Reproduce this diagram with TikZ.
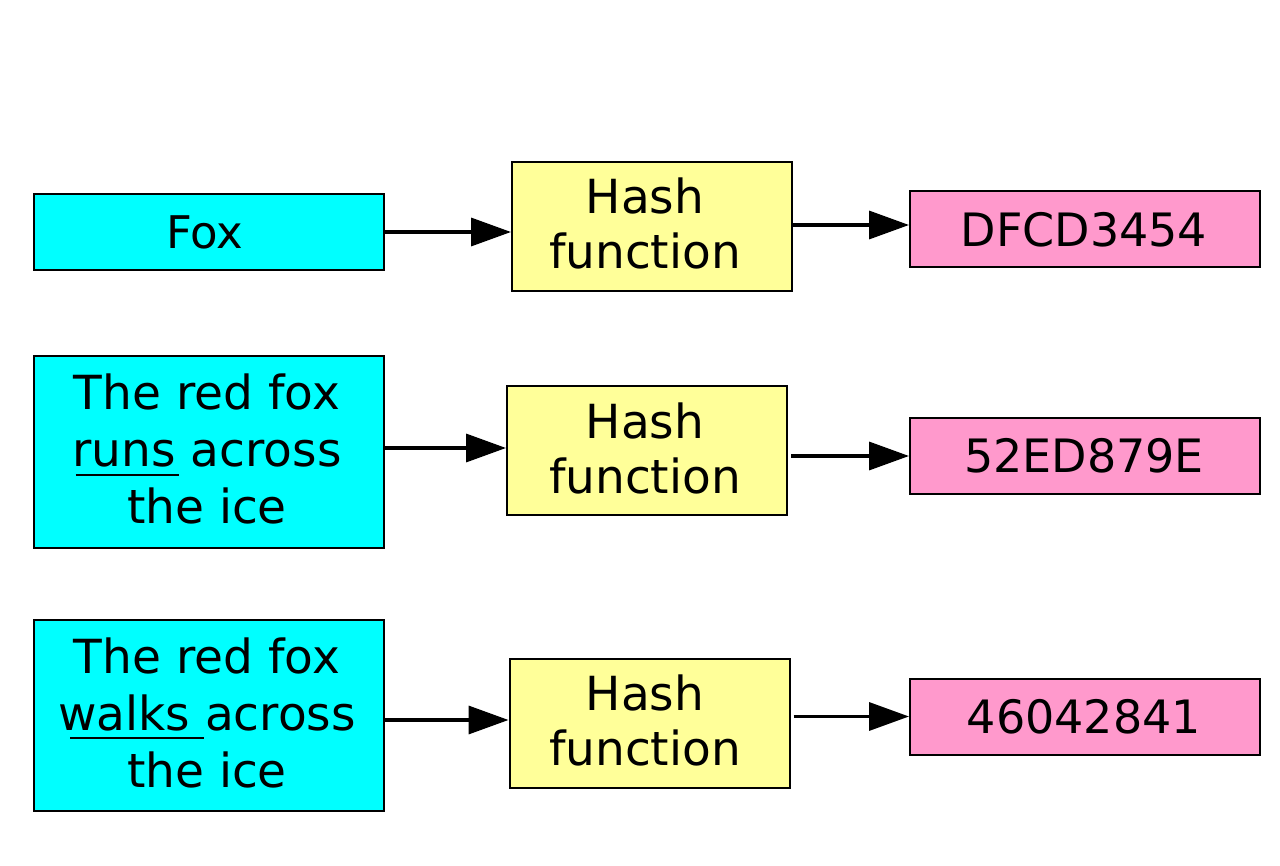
\documentclass[tikz,border=0pt]{standalone}
\usepackage{fontspec}
\setmainfont{DejaVu Sans}
\usetikzlibrary{arrows.meta}
\definecolor{inbox}{HTML}{00FFFF}
\definecolor{hashbox}{HTML}{FFFF99}
\definecolor{outbox}{HTML}{FF99CC}
% underline a word: #1 = shift of the rule, #2 = rule length, #3 = word
\newcommand\markword[3]{\rlap{\hspace*{#1}\rule[-9pt]{#2}{2pt}}#3}
\begin{document}
\begin{tikzpicture}[x=1pt,y=-1pt,
  box/.style={draw=black,line width=2pt,inner sep=0pt},
  inputbox/.style={box,fill=inbox,minimum width=350pt},
  hashfn/.style={box,fill=hashbox,minimum width=280pt,minimum height=129pt},
  digest/.style={box,fill=outbox,minimum width=350pt,minimum height=76pt},
  txt/.style={inner sep=0pt,align=center,font=\fontsize{46}{56}\selectfont},
  bigtxt/.style={txt,font=\fontsize{47}{57}\selectfont},
  arr/.style={line width=3.5pt,-{Triangle[length=40pt,width=28pt]}}]
\useasboundingbox (0,0) rectangle (1280,866);

% row 1
\node[inputbox,minimum height=76pt] (in1) at (209,232) {};
\node[hashfn] (h1) at (652,226.5) {};
\node[digest] (d1) at (1085,229.5) {};
\node[txt,font=\fontsize{45}{56}\selectfont] (in1t) at ([xshift=-4pt]in1.center) {Fox};
\node[bigtxt,font=\fontsize{47}{55}\selectfont] (h1t) at ([xshift=-7pt,yshift=3pt]h1.center) {Hash\\function};
\node[txt] (d1t) at ([xshift=-1pt]d1.center) {DFCD3454};

% row 2
\node[inputbox,minimum height=192pt] (in2) at (209,452) {};
\node[hashfn] (h2) at (647,450.5) {};
\node[digest] (d2) at (1085,456) {};
\node[bigtxt] (in2t) at ([xshift=-2pt,yshift=3pt]in2.center)
  {The red fox\\\markword{3pt}{103pt}{runs }across\\the ice};
\node[bigtxt,font=\fontsize{47}{55}\selectfont] (h2t) at ([xshift=-2pt,yshift=2.5pt]h2.center) {Hash\\function};
\node[txt] (d2t) at ([xshift=-1pt]d2.center) {52ED879E};

% row 3
\node[inputbox,minimum height=191pt] (in3) at (209,715.5) {};
\node[hashfn] (h3) at (649.5,723.5) {};
\node[digest] (d3) at (1085,716.5) {};
\node[bigtxt] (in3t) at ([xshift=-2pt,yshift=3pt]in3.center)
  {The red fox\\\markword{12pt}{134pt}{walks }across\\the ice};
\node[bigtxt,font=\fontsize{47}{55}\selectfont] (h3t) at ([xshift=-4.5pt,yshift=3pt]h3.center) {Hash\\function};
\node[txt] (d3t) at ([xshift=-1pt]d3.center) {46042841};

% arrows
\draw[arr] (in1.east) -- (in1.east -| h1.west);
\draw[arr] ([yshift=1.5pt]h1.east) -- ([yshift=1.5pt]h1.east -| d1.west);
\draw[arr] ([yshift=4pt]in2.east) -- ([yshift=4pt]in2.east -| h2.west);
\draw[arr] ([xshift=3pt]h2.east |- d2.west) -- (d2.west);
\draw[arr] ([yshift=-4.5pt]in3.east) -- ([yshift=-4.5pt]in3.east -| h3.west);
\draw[arr] ([xshift=3pt]h3.east |- d3.west) -- (d3.west);
\end{tikzpicture}
\end{document}
